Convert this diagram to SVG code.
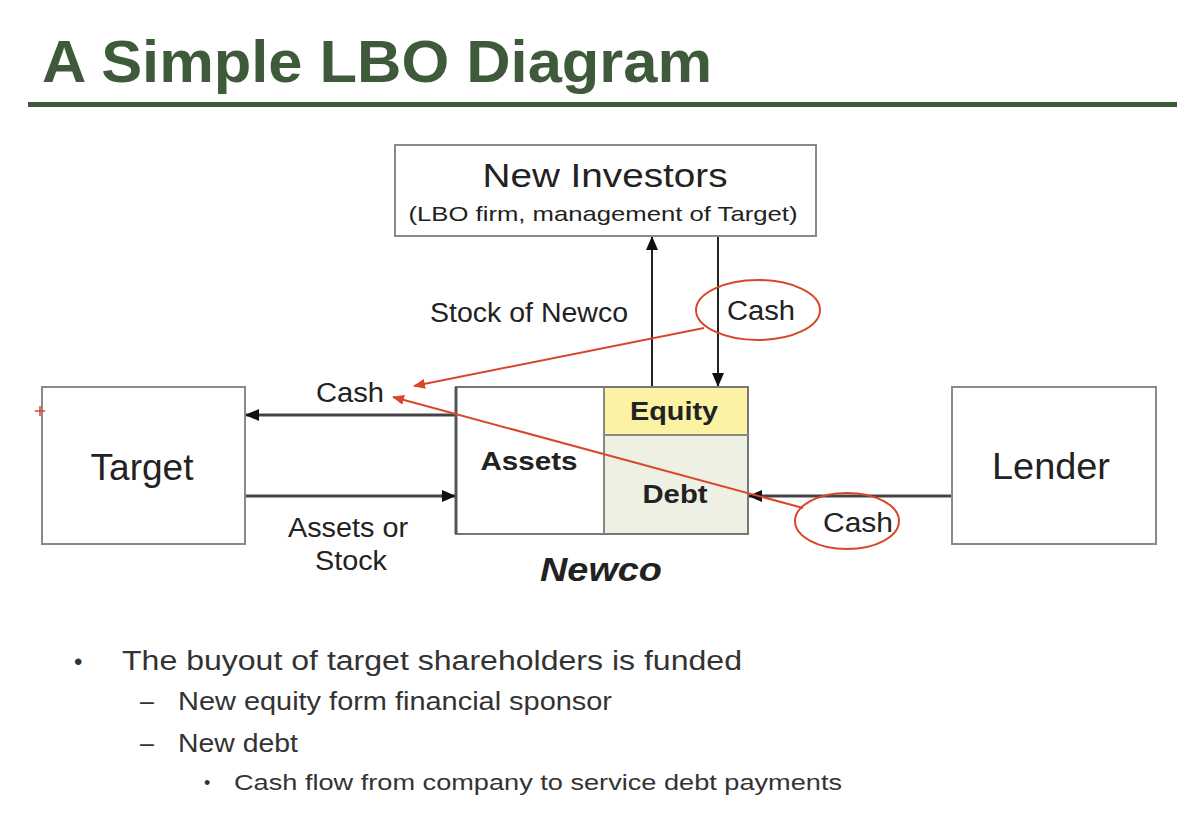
<svg xmlns="http://www.w3.org/2000/svg" width="1198" height="818" viewBox="0 0 1198 818">
<style>
text{font-family:"Liberation Sans",Arial,sans-serif;fill:#222}
.box{fill:#fff;stroke:#8a8a8a;stroke-width:2}
.lbl{font-size:27px}
.b{font-weight:bold}
.conn{stroke:#444;stroke-width:3;fill:none}
.thin{stroke:#222;stroke-width:2;fill:none}
.red{stroke:#d9472b;stroke-width:2;fill:none}
.bul{fill:#333}
</style>
<defs>
<marker id="ah" markerUnits="userSpaceOnUse" markerWidth="14" markerHeight="14" refX="13" refY="7" orient="auto"><path d="M0,1 L14,7 L0,13 Z" fill="#111"/></marker>
<marker id="rh" markerUnits="userSpaceOnUse" markerWidth="12" markerHeight="10" refX="11" refY="5" orient="auto"><path d="M0,0 L12,5 L0,10 Z" fill="#d9472b"/></marker>
</defs>
<rect width="1198" height="818" fill="#fff"/>
<g id="title">
<text x="42" y="82" font-size="59" font-weight="bold" style="fill:#3f5a3a" textLength="670" lengthAdjust="spacingAndGlyphs">A Simple LBO Diagram</text>
<rect x="28" y="102" width="1149" height="5" fill="#3f5a3a"/>
</g>
<g id="connectors">
<line class="thin" x1="652" y1="386" x2="652" y2="237" marker-end="url(#ah)"/>
<line class="thin" x1="718" y1="236" x2="718" y2="386" marker-end="url(#ah)"/>
<line class="conn" x1="456" y1="415" x2="246" y2="415" marker-end="url(#ah)"/>
<line class="conn" x1="245" y1="496" x2="455" y2="496" marker-end="url(#ah)"/>
<line class="conn" x1="952" y1="496" x2="749" y2="496" marker-end="url(#ah)"/>
</g>
<g id="new-investors">
<rect class="box" x="395" y="145" width="421" height="91"/>
<text x="605" y="187" font-size="34" text-anchor="middle" textLength="245" lengthAdjust="spacingAndGlyphs">New Investors</text>
<text x="603" y="221" font-size="21" text-anchor="middle" textLength="389" lengthAdjust="spacingAndGlyphs">(LBO firm, management of Target)</text>
</g>
<g id="target">
<rect class="box" x="42" y="387" width="203" height="157"/>
<text x="142" y="480" font-size="36" text-anchor="middle" textLength="103" lengthAdjust="spacingAndGlyphs">Target</text>
</g>
<g id="newco">
<rect x="456" y="387" width="292" height="147" fill="#fff"/>
<rect x="604" y="387" width="144" height="48" fill="#fbf2a4"/>
<rect x="604" y="435" width="144" height="99" fill="#eef0e3"/>
<rect x="456" y="387" width="292" height="147" fill="none" stroke="#777" stroke-width="2"/>
<line x1="456" y1="387" x2="456" y2="534" stroke="#555" stroke-width="3"/>
<line x1="604" y1="387" x2="604" y2="534" stroke="#888" stroke-width="2"/>
<line x1="604" y1="435" x2="748" y2="435" stroke="#888" stroke-width="2"/>
<text class="b" x="529" y="470" font-size="26" text-anchor="middle" textLength="97" lengthAdjust="spacingAndGlyphs">Assets</text>
<text class="b" x="674" y="420" font-size="26" text-anchor="middle" textLength="88" lengthAdjust="spacingAndGlyphs">Equity</text>
<text class="b" x="675" y="503" font-size="26" text-anchor="middle" textLength="65" lengthAdjust="spacingAndGlyphs">Debt</text>
<text x="601" y="581" font-size="34" font-weight="bold" font-style="italic" text-anchor="middle" textLength="122" lengthAdjust="spacingAndGlyphs">Newco</text>
</g>
<g id="lender">
<rect class="box" x="952" y="387" width="204" height="157"/>
<text x="1051" y="479" font-size="36" text-anchor="middle" textLength="118" lengthAdjust="spacingAndGlyphs">Lender</text>
</g>
<g id="labels">
<text class="lbl" x="529" y="322" text-anchor="middle" textLength="198" lengthAdjust="spacingAndGlyphs">Stock of Newco</text>
<text class="lbl" x="350" y="402" text-anchor="middle" textLength="68" lengthAdjust="spacingAndGlyphs">Cash</text>
<text class="lbl" x="348" y="537" text-anchor="middle" textLength="120" lengthAdjust="spacingAndGlyphs">Assets or</text>
<text class="lbl" x="351" y="570" text-anchor="middle" textLength="72" lengthAdjust="spacingAndGlyphs">Stock</text>
</g>
<g id="annotations">
<ellipse class="red" cx="758" cy="310" rx="62" ry="30"/>
<text class="lbl" x="761" y="320" text-anchor="middle" textLength="68" lengthAdjust="spacingAndGlyphs">Cash</text>
<line class="red" x1="704" y1="328" x2="414" y2="386" marker-end="url(#rh)"/>
<ellipse class="red" cx="847" cy="521" rx="52" ry="28"/>
<text class="lbl" x="858" y="532" text-anchor="middle" textLength="70" lengthAdjust="spacingAndGlyphs">Cash</text>
<line class="red" x1="803" y1="508" x2="393" y2="397" marker-end="url(#rh)"/>
<path d="M35,411 H45 M40,406 V416" stroke="#d9472b" stroke-width="1.5"/>
</g>
<g id="bullets">
<text class="bul" x="74" y="670" font-size="24">•</text>
<text class="bul" x="122" y="670" font-size="27" textLength="620" lengthAdjust="spacingAndGlyphs">The buyout of target shareholders is funded</text>
<text class="bul" x="140" y="710" font-size="25">–</text>
<text class="bul" x="178" y="710" font-size="25" textLength="434" lengthAdjust="spacingAndGlyphs">New equity form financial sponsor</text>
<text class="bul" x="140" y="752" font-size="25">–</text>
<text class="bul" x="178" y="752" font-size="25" textLength="120" lengthAdjust="spacingAndGlyphs">New debt</text>
<text class="bul" x="204" y="789" font-size="18">•</text>
<text class="bul" x="234" y="790" font-size="22" textLength="608" lengthAdjust="spacingAndGlyphs">Cash flow from company to service debt payments</text>
</g>
</svg>
